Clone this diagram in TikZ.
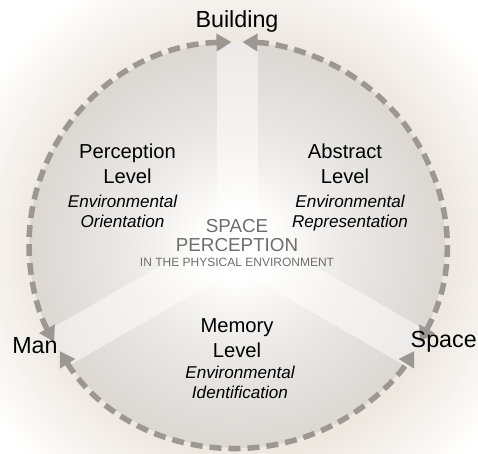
\documentclass[tikz,border=0pt]{standalone}
\usepackage{fontspec}
\setmainfont{Liberation Sans}
\usetikzlibrary{positioning, arrows.meta}

\definecolor{ringgray}{HTML}{9C9792}
\definecolor{discmid}{HTML}{ECE9E6}
\definecolor{discedge}{HTML}{DBD7D3}
\definecolor{glowtan}{HTML}{EEE8E1}
\definecolor{coregray}{HTML}{6E6E6E}

\pgfdeclareradialshading{discshade}{\pgfpoint{0bp}{0bp}}{color(0bp)=(white); color(4bp)=(white); color(13bp)=(discmid); color(25bp)=(discedge); color(50bp)=(discedge)}
\pgfdeclareradialshading{glowshade}{\pgfpoint{0bp}{0bp}}{color(0bp)=(glowtan); color(17.4bp)=(glowtan); color(25bp)=(white); color(50bp)=(white)}

\begin{document}
\begin{tikzpicture}[
  x=1pt, y=1pt,
  >={Triangle[length=15pt, width=17pt]},
  every node/.style={inner sep=0pt, align=center},
  corner/.style  = {font=\fontsize{23.3}{27}\selectfont},
  lvl/.style     = {font=\fontsize{20.2}{25}\selectfont},
  sub/.style     = {font=\fontsize{17.1}{20}\selectfont\itshape},
  core/.style    = {font=\fontsize{18.8}{19.5}\selectfont, text=coregray},
  coresub/.style = {font=\fontsize{12}{13}\selectfont, text=coregray},
  band/.style    = {line width=41pt, white, opacity=0.5},
  ring/.style    = {<->, line width=5.5pt, ringgray, dash pattern=on 12pt off 7pt},
]
  \def\Rx{208}
  \def\Ry{203}
  \useasboundingbox (-237,-208) rectangle (241,245);
  \clip (-237,-208) rectangle (241,245);
  % soft glow and shaded disc
  \shade[shading=glowshade] (6,-2) circle (300);
  \shade[shading=discshade] (0,0) ellipse ({\Rx} and {\Ry});
  \begin{scope}
    \clip (0,0) ellipse ({\Rx} and {\Ry});
    \foreach \a in {90,210,330}
      \draw[band] (0,0) -- (\a:\Rx+10);
  \end{scope}
  % dashed ring, three arcs
  \foreach \s/\e/\n in {91.5/208.5/bm, 211.5/328.5/ms, 331.5/448.5/sb} {
    \coordinate (\n) at (\s:{\Rx} and {\Ry});
    \draw[ring] (\n) arc[start angle=\s, end angle=\e, x radius=\Rx, y radius=\Ry];
  }
  % labels
  \node[corner, anchor=base]      (bld)   at (0,217)     {Building};
  \node[corner, anchor=base]      (man)   at (-202,-108) {Man};
  \node[corner, anchor=base east] (spc)   at (240,-102)  {Space};
  \node[lvl]                      (perc)  at (-109.5,81) {Perception\\Level};
  \node[sub, below=11pt of perc, xshift=-5pt] (percs) {Environmental\\Orientation};
  \node[lvl]                      (abst)  at (108,81)    {Abstract\\Level};
  \node[sub, below=11pt of abst, xshift=5pt]  (absts) {Environmental\\Representation};
  \node[core]                     (sp)    at (0,9.5)     {SPACE\\PERCEPTION};
  \node[coresub, below=6pt of sp]             (sps)   {IN THE PHYSICAL ENVIRONMENT};
  \node[lvl]                      (mem)   at (0,-93)     {Memory\\Level};
  \node[sub, below=8pt of mem, xshift=3pt]    (mems)  {Environmental\\Identification};
\end{tikzpicture}
\end{document}
